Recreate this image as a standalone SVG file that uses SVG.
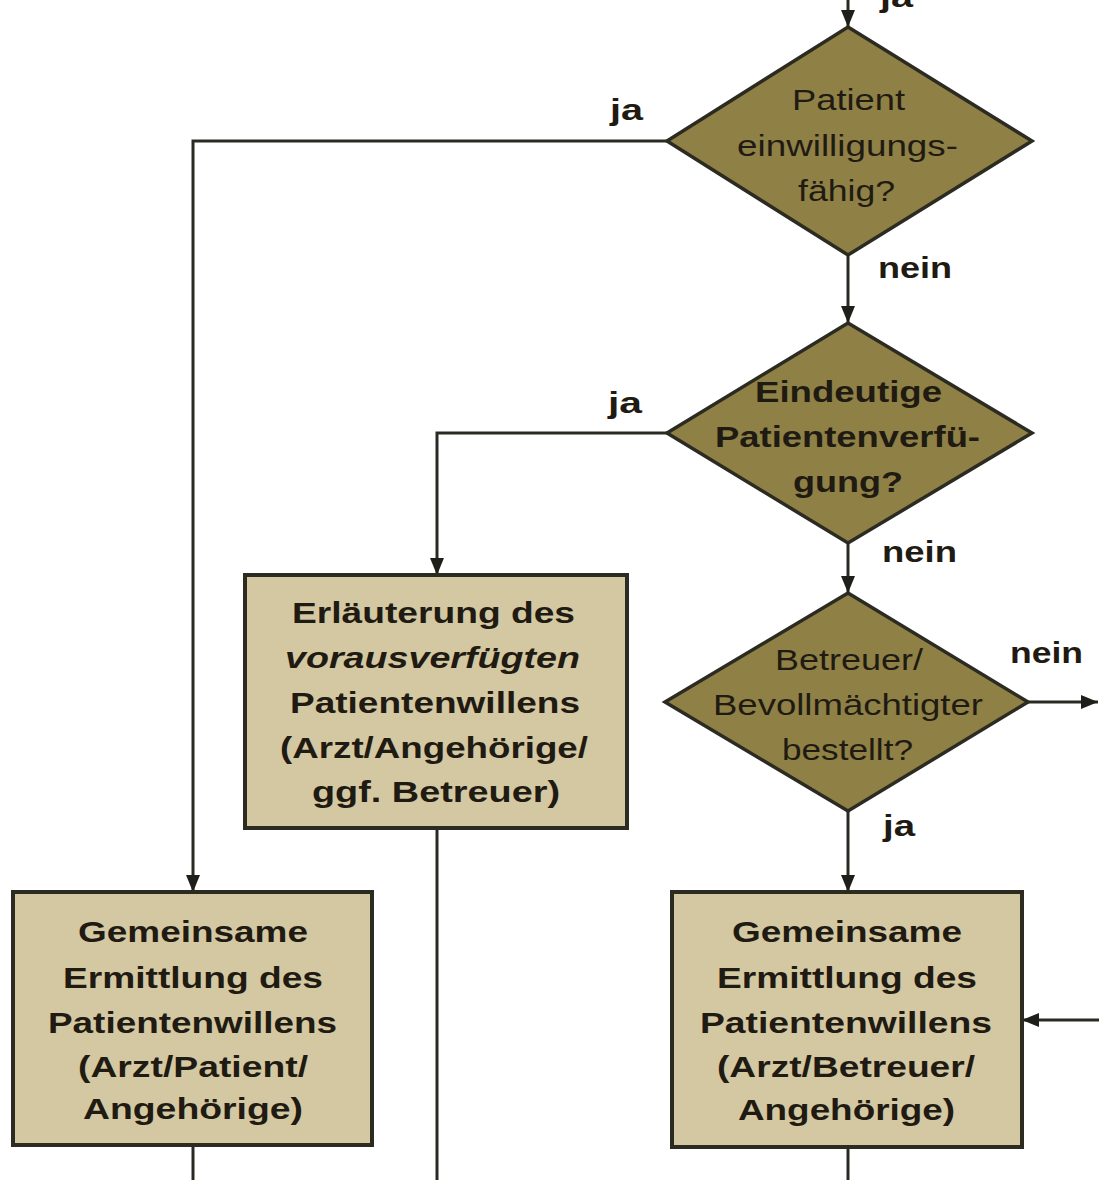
<svg xmlns="http://www.w3.org/2000/svg" width="1099" height="1180" viewBox="0 0 1099 1180">
  <style>
    .dia { fill: #8f8046; stroke: #2c2b22; stroke-width: 3.5; stroke-linejoin: miter; }
    .box { fill: #d4c8a2; stroke: #2c2b22; stroke-width: 4; }
    .edge { fill: none; stroke: #2a2a24; stroke-width: 3; }
    .t { font-family: "Liberation Sans", Arial, sans-serif; font-size: 30px; fill: #1f1b12; }
    .b { font-weight: bold; }
    .i { font-style: italic; }
    .lbl { font-family: "Liberation Sans", Arial, sans-serif; font-size: 29px; font-weight: bold; fill: #1f1b12; }
  </style>
  <defs>
    <marker id="arrow" viewBox="0 0 17 14" refX="17" refY="7" markerWidth="17" markerHeight="14" markerUnits="userSpaceOnUse" orient="auto">
      <path d="M0,0 L17,7 L0,14 z" fill="#1f1f1a"/>
    </marker>
  </defs>
  <rect width="1099" height="1180" fill="#ffffff"/>

  <!-- connectors -->
  <g id="connectors">
    <line class="edge" x1="848" y1="0" x2="848" y2="27" marker-end="url(#arrow)"/>
    <polyline class="edge" points="667,141 193,141 193,892" marker-end="url(#arrow)"/>
    <line class="edge" x1="848" y1="255" x2="848" y2="323" marker-end="url(#arrow)"/>
    <polyline class="edge" points="667,433 437,433 437,575" marker-end="url(#arrow)"/>
    <line class="edge" x1="848" y1="543" x2="848" y2="593" marker-end="url(#arrow)"/>
    <line class="edge" x1="1028" y1="702" x2="1098" y2="702" marker-end="url(#arrow)"/>
    <line class="edge" x1="848" y1="811" x2="848" y2="892" marker-end="url(#arrow)"/>
    <line class="edge" x1="1099" y1="1020" x2="1022" y2="1020" marker-end="url(#arrow)"/>
    <line class="edge" x1="193" y1="1145" x2="193" y2="1180"/>
    <line class="edge" x1="437" y1="828" x2="437" y2="1180"/>
    <line class="edge" x1="848" y1="1147" x2="848" y2="1180"/>
    <!-- edge labels -->
    <text class="lbl" x="880" y="7" textLength="33" lengthAdjust="spacingAndGlyphs">ja</text>
    <text class="lbl" x="610" y="120" textLength="33" lengthAdjust="spacingAndGlyphs">ja</text>
    <text class="lbl" x="878" y="278" textLength="74" lengthAdjust="spacingAndGlyphs">nein</text>
    <text class="lbl" x="608" y="413" textLength="34" lengthAdjust="spacingAndGlyphs">ja</text>
    <text class="lbl" x="882" y="562" textLength="75" lengthAdjust="spacingAndGlyphs">nein</text>
    <text class="lbl" x="1010" y="663" textLength="73" lengthAdjust="spacingAndGlyphs">nein</text>
    <text class="lbl" x="883" y="836" textLength="32" lengthAdjust="spacingAndGlyphs">ja</text>
  </g>

  <!-- decision: consent capacity -->
  <g id="d-einwilligung">
    <polygon class="dia" points="848,27 1032,141 848,255 667,141"/>
    <text class="t" x="792" y="110" textLength="113" lengthAdjust="spacingAndGlyphs">Patient</text>
    <text class="t" x="737" y="156" textLength="221" lengthAdjust="spacingAndGlyphs">einwilligungs-</text>
    <text class="t" x="798" y="201" textLength="97" lengthAdjust="spacingAndGlyphs">fähig?</text>
  </g>

  <!-- decision: advance directive -->
  <g id="d-verfuegung">
    <polygon class="dia" points="848,323 1032,433 848,543 667,433"/>
    <text class="t b" x="755" y="402" textLength="187" lengthAdjust="spacingAndGlyphs">Eindeutige</text>
    <text class="t b" x="715" y="447" textLength="265" lengthAdjust="spacingAndGlyphs">Patientenverfü-</text>
    <text class="t b" x="793" y="492" textLength="110" lengthAdjust="spacingAndGlyphs">gung?</text>
  </g>

  <!-- decision: guardian appointed -->
  <g id="d-betreuer">
    <polygon class="dia" points="848,593 1028,702 848,811 665,702"/>
    <text class="t" x="775" y="670" textLength="148" lengthAdjust="spacingAndGlyphs">Betreuer/</text>
    <text class="t" x="713" y="715" textLength="270" lengthAdjust="spacingAndGlyphs">Bevollmächtigter</text>
    <text class="t" x="782" y="760" textLength="131" lengthAdjust="spacingAndGlyphs">bestellt?</text>
  </g>

  <!-- process: explain advance directive -->
  <g id="p-erlaeuterung">
    <rect class="box" x="245" y="575" width="382" height="253"/>
    <text class="t b" x="292" y="623" textLength="283" lengthAdjust="spacingAndGlyphs">Erläuterung des</text>
    <text class="t b i" x="285" y="668" textLength="295" lengthAdjust="spacingAndGlyphs">vorausverfügten</text>
    <text class="t b" x="290" y="713" textLength="290" lengthAdjust="spacingAndGlyphs">Patientenwillens</text>
    <text class="t b" x="280" y="758" textLength="308" lengthAdjust="spacingAndGlyphs">(Arzt/Angehörige/</text>
    <text class="t b" x="312" y="802" textLength="248" lengthAdjust="spacingAndGlyphs">ggf. Betreuer)</text>
  </g>

  <!-- process: joint determination with patient -->
  <g id="p-ermittlung-patient">
    <rect class="box" x="13" y="892" width="359" height="253"/>
    <text class="t b" x="78" y="942" textLength="230" lengthAdjust="spacingAndGlyphs">Gemeinsame</text>
    <text class="t b" x="63" y="988" textLength="260" lengthAdjust="spacingAndGlyphs">Ermittlung des</text>
    <text class="t b" x="48" y="1033" textLength="289" lengthAdjust="spacingAndGlyphs">Patientenwillens</text>
    <text class="t b" x="78" y="1077" textLength="230" lengthAdjust="spacingAndGlyphs">(Arzt/Patient/</text>
    <text class="t b" x="83" y="1119" textLength="220" lengthAdjust="spacingAndGlyphs">Angehörige)</text>
  </g>

  <!-- process: joint determination with guardian -->
  <g id="p-ermittlung-betreuer">
    <rect class="box" x="672" y="892" width="350" height="255"/>
    <text class="t b" x="732" y="942" textLength="230" lengthAdjust="spacingAndGlyphs">Gemeinsame</text>
    <text class="t b" x="717" y="988" textLength="260" lengthAdjust="spacingAndGlyphs">Ermittlung des</text>
    <text class="t b" x="700" y="1033" textLength="292" lengthAdjust="spacingAndGlyphs">Patientenwillens</text>
    <text class="t b" x="717" y="1077" textLength="258" lengthAdjust="spacingAndGlyphs">(Arzt/Betreuer/</text>
    <text class="t b" x="738" y="1120" textLength="217" lengthAdjust="spacingAndGlyphs">Angehörige)</text>
  </g>
</svg>
